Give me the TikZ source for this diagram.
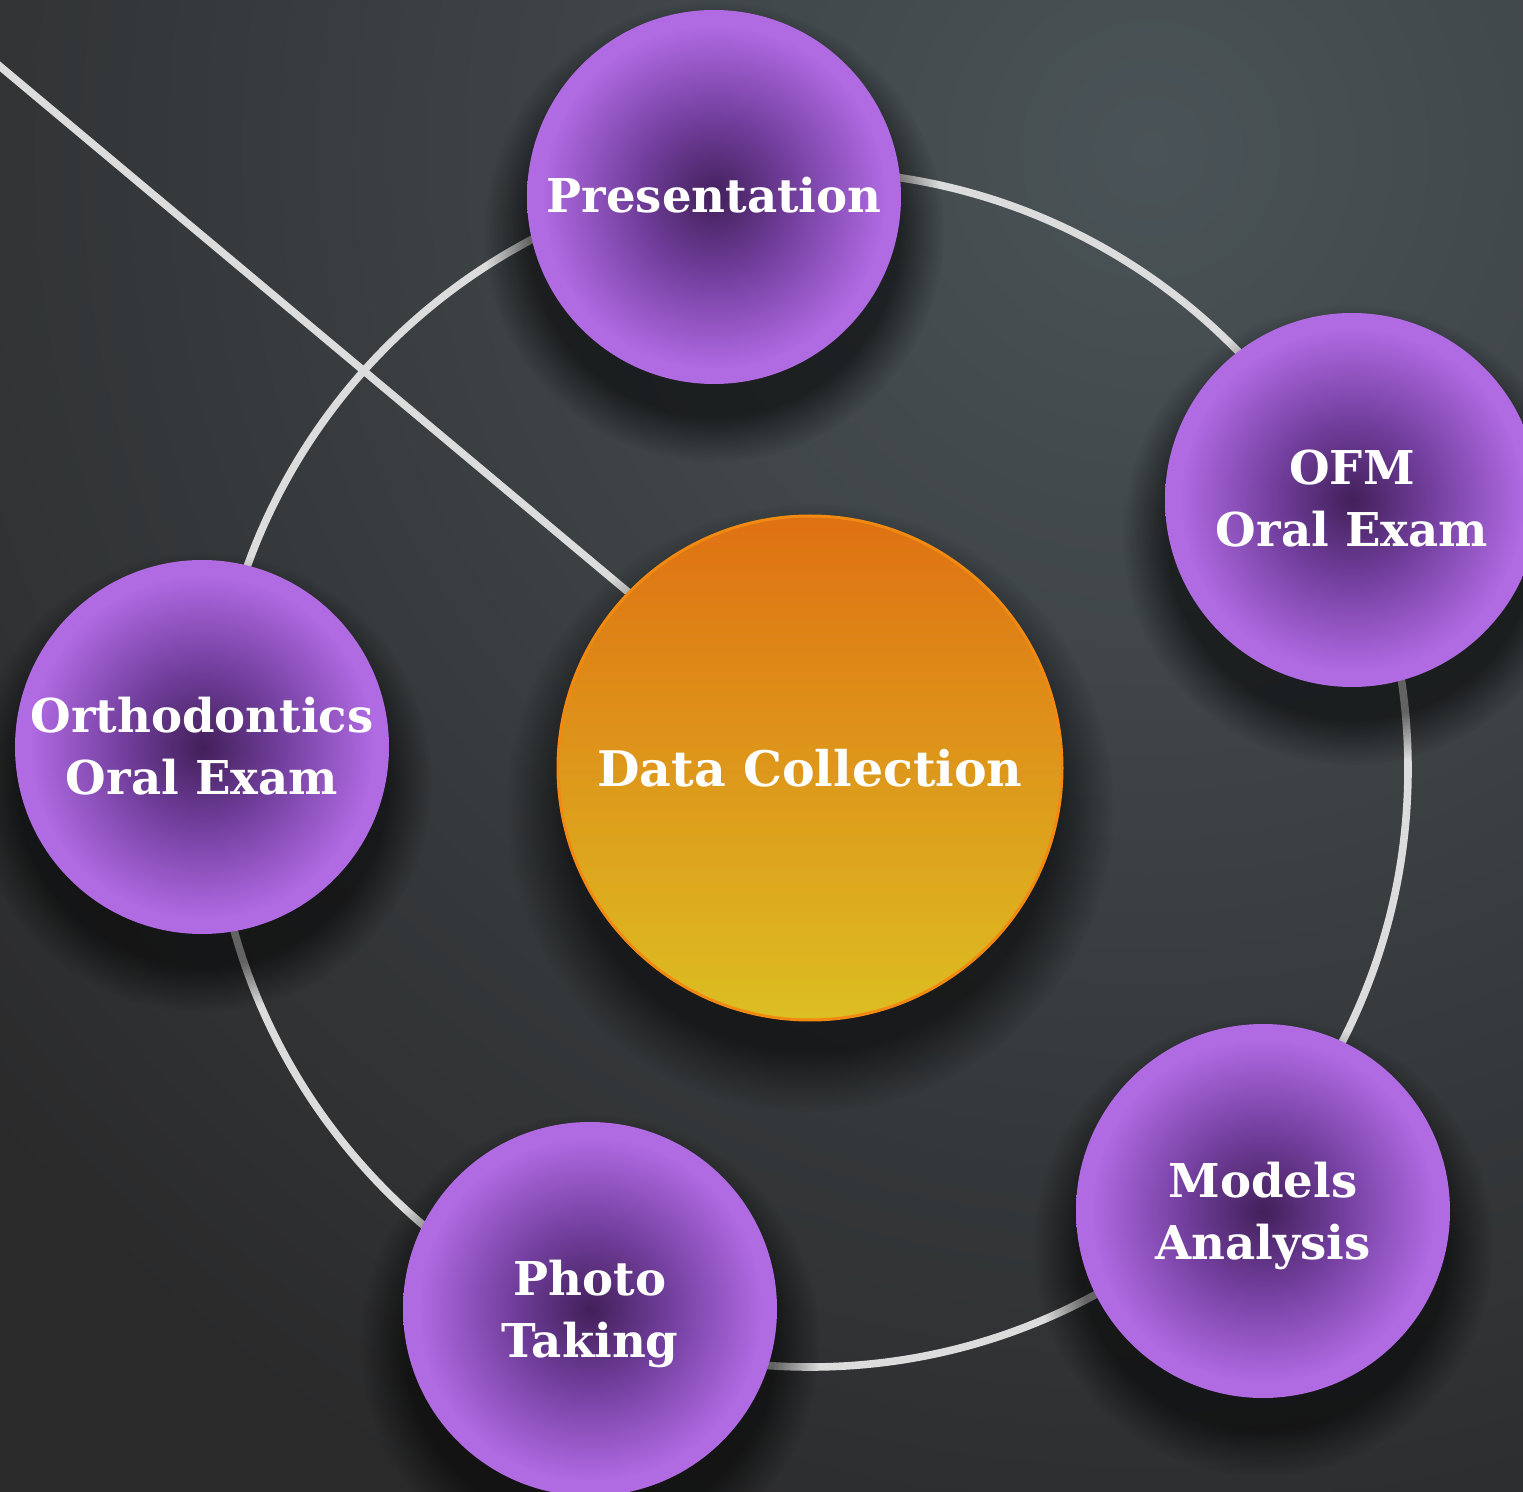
\documentclass[tikz,border=0pt]{standalone}
\usepackage{fontspec}
\setmainfont{DejaVu Serif}
\usetikzlibrary{fadings}
\definecolor{bgdark}{HTML}{2A2A2B}
\definecolor{bglight}{HTML}{4A5357}
\definecolor{ringc}{HTML}{DCDCDC}
\definecolor{pdark}{HTML}{42205A}
\definecolor{pmid}{HTML}{7440A0}
\definecolor{plight}{HTML}{B06AE2}
\definecolor{otop}{HTML}{DF7113}
\definecolor{obot}{HTML}{DCBE22}
\definecolor{oedge}{HTML}{F28A12}
\pgfdeclareradialshading{purpball}{\pgfpointorigin}{color(0bp)=(pdark); color(11bp)=(pmid); color(23bp)=(plight); color(50bp)=(plight)}
\pgfdeclareradialshading{softshshade}{\pgfpointorigin}{color(0bp)=(pgftransparent!0); color(20bp)=(pgftransparent!0); color(25bp)=(pgftransparent!100); color(50bp)=(pgftransparent!100)}
\pgfdeclarefading{softsh}{\pgfuseshading{softshshade}}
\tikzset{
  x=0.5pt, y=-0.5pt,
  ringline/.style={draw=ringc, line width=3.8pt},
  ball/.style={circle, minimum size=187pt, inner sep=0pt, shade, shading=purpball},
  hub/.style={circle, minimum size=252pt, inner sep=0pt, top color=otop, bottom color=obot, draw=oedge, line width=1.5pt},
  lbl/.style={text=white, font=\fontsize{23.3}{28}\selectfont\bfseries, inner sep=0pt, anchor=base},
  hublbl/.style={lbl, font=\fontsize{24.5}{28}\selectfont\bfseries},
  shadowc/.style={fill=black, opacity=0.55, path fading=softsh}
}
\begin{document}
\begin{tikzpicture}
\useasboundingbox (0,0) rectangle (1523,1492);
% background
\begin{scope}
\clip (0,0) rectangle (1523,1492);
\fill[bgdark] (0,0) rectangle (1523,1492);
\shade[inner color=bglight, outer color=bgdark] (1150,150) circle (760pt);
\end{scope}
% ring and line
\draw[ringline] (810,769) circle (299pt);
\coordinate (lstart) at (-10,58);
\coordinate (lend) at (640,602);
\draw[ringline] (lstart) -- (lend);
% shadows
\fill[shadowc] (810,808) circle (152pt);
\fill[shadowc] (714,232) circle (115pt);
\fill[shadowc] (1352,535) circle (115pt);
\fill[shadowc] (202,782) circle (115pt);
\fill[shadowc] (590,1344) circle (115pt);
\fill[shadowc] (1263,1246) circle (115pt);
% circles
\node[hub] (dc) at (810,768) {};
\node[ball] (pres) at (714,197) {};
\node[ball] (ofm) at (1352,500) {};
\node[ball] (orth) at (202,747) {};
\node[ball] (photo) at (590,1309) {};
\node[ball] (models) at (1263,1211) {};
% labels
\node[hublbl] (dct) at (810,787) {Data Collection};
\node[lbl] (prest) at (714,213) {Presentation};
\node[lbl] (ofmt1) at (1352,485) {OFM};
\node[lbl] (ofmt2) at (1352,547) {Oral Exam};
\node[lbl] (ortht1) at (202,733) {Orthodontics};
\node[lbl] (ortht2) at (202,795) {Oral Exam};
\node[lbl] (photot1) at (590,1295) {Photo};
\node[lbl] (photot2) at (590,1357) {Taking};
\node[lbl] (modelst1) at (1263,1197) {Models};
\node[lbl] (modelst2) at (1263,1259) {Analysis};
\end{tikzpicture}
\end{document}
